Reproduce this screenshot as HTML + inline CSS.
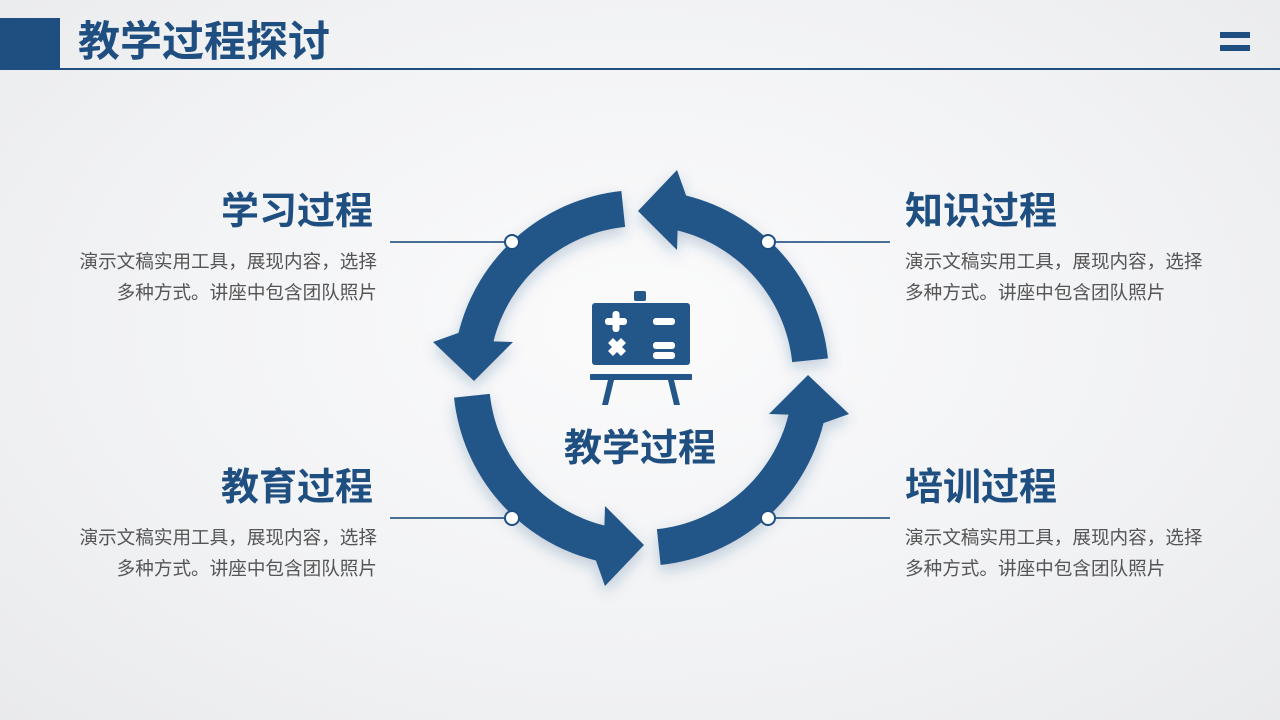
<!DOCTYPE html>
<html><head><meta charset="utf-8"><style>
*{margin:0;padding:0;box-sizing:border-box}
body{width:1280px;height:720px;overflow:hidden;position:relative;background:radial-gradient(ellipse at 50% 45%,#fbfbfc 0%,#f1f2f4 60%,#e9eaec 100%);font-family:"Liberation Sans","Noto Sans CJK SC",sans-serif}
.t{position:absolute;font-weight:bold;color:#1f4e80;font-size:38px;line-height:1}
.b{position:absolute;color:#555;font-size:18.6px;line-height:31px;width:340px;white-space:nowrap}
</style></head><body>
<div style="position:absolute;left:0;top:18px;width:60px;height:52px;background:#1f4e80"></div>
<div class="t" style="left:78px;top:21px;font-size:42px">教学过程探讨</div>
<div style="position:absolute;left:60px;top:68px;width:1220px;height:2px;background:#1f4e80"></div>
<div style="position:absolute;left:1220px;top:32px;width:30px;height:6px;background:#1f4e80"></div>
<div style="position:absolute;left:1220px;top:45px;width:30px;height:6px;background:#1f4e80"></div>

<div class="t" style="right:907px;top:193px">学习过程</div>
<div class="b" style="right:903px;top:246px;text-align:right">演示文稿实用工具，展现内容，选择<br>多种方式。讲座中包含团队照片</div>
<div class="t" style="right:907px;top:469px">教育过程</div>
<div class="b" style="right:903px;top:522px;text-align:right">演示文稿实用工具，展现内容，选择<br>多种方式。讲座中包含团队照片</div>
<div class="t" style="left:905px;top:193px">知识过程</div>
<div class="b" style="left:905px;top:246px">演示文稿实用工具，展现内容，选择<br>多种方式。讲座中包含团队照片</div>
<div class="t" style="left:905px;top:469px">培训过程</div>
<div class="b" style="left:905px;top:522px">演示文稿实用工具，展现内容，选择<br>多种方式。讲座中包含团队照片</div>
<div class="t" style="left:540px;top:430px;width:200px;text-align:center">教学过程</div>

<svg width="1280" height="720" style="position:absolute;left:0;top:0">
<defs><filter id="s" x="-20%" y="-20%" width="140%" height="140%"><feDropShadow dx="0" dy="6" stdDeviation="7" flood-color="#1f4e80" flood-opacity="0.25"/></filter>
<path id="p" d="M186.97,-19.65 A188,188 0 0 0 45.09,-182.5 L36,-208 L-3,-167 L36,-128 L36.6,-147.5 A152,152 0 0 1 151.17,-15.89 Z"/></defs>
<g stroke="#1f4e80" stroke-width="2" opacity="0.8">
<line x1="390" y1="242" x2="505" y2="242"/><line x1="775" y1="242" x2="890" y2="242"/>
<line x1="390" y1="518" x2="505" y2="518"/><line x1="775" y1="518" x2="890" y2="518"/>
</g>
<g transform="translate(641,378)" fill="#235789" filter="url(#s)">
<use href="#p"/>
<use href="#p" transform="rotate(-90)"/>
<use href="#p" transform="rotate(-180)"/>
<use href="#p" transform="rotate(-270)"/>
</g>
<g fill="#fff" stroke="#1f4e80" stroke-width="2">
<circle cx="512" cy="242" r="7"/><circle cx="768" cy="242" r="7"/>
<circle cx="512" cy="518" r="7"/><circle cx="768" cy="518" r="7"/>
</g>
<g fill="#235789">
<rect x="634" y="291" width="12" height="10" rx="2"/>
<rect x="592" y="303" width="98" height="62" rx="3"/>
<rect x="590" y="374" width="102" height="6" rx="1"/>
<path d="M608,380 L614,380 L608,405 L602,405 Z"/>
<path d="M668,380 L674,380 L680,405 L674,405 Z"/>
</g>
<g fill="#fff">
<rect x="605" y="318" width="22" height="7" rx="3"/><rect x="612.5" y="311" width="7" height="21" rx="3"/>
<rect x="653" y="318" width="22" height="7" rx="3"/>
<rect x="653" y="342" width="22" height="7" rx="3"/><rect x="653" y="352" width="22" height="7" rx="3"/>
<path d="M608,343 l5,-5 l4,4 l4,-4 l5,5 l-4,4 l4,4 l-5,5 l-4,-4 l-4,4 l-5,-5 l4,-4 z"/>
</g>
</svg>
</body></html>
